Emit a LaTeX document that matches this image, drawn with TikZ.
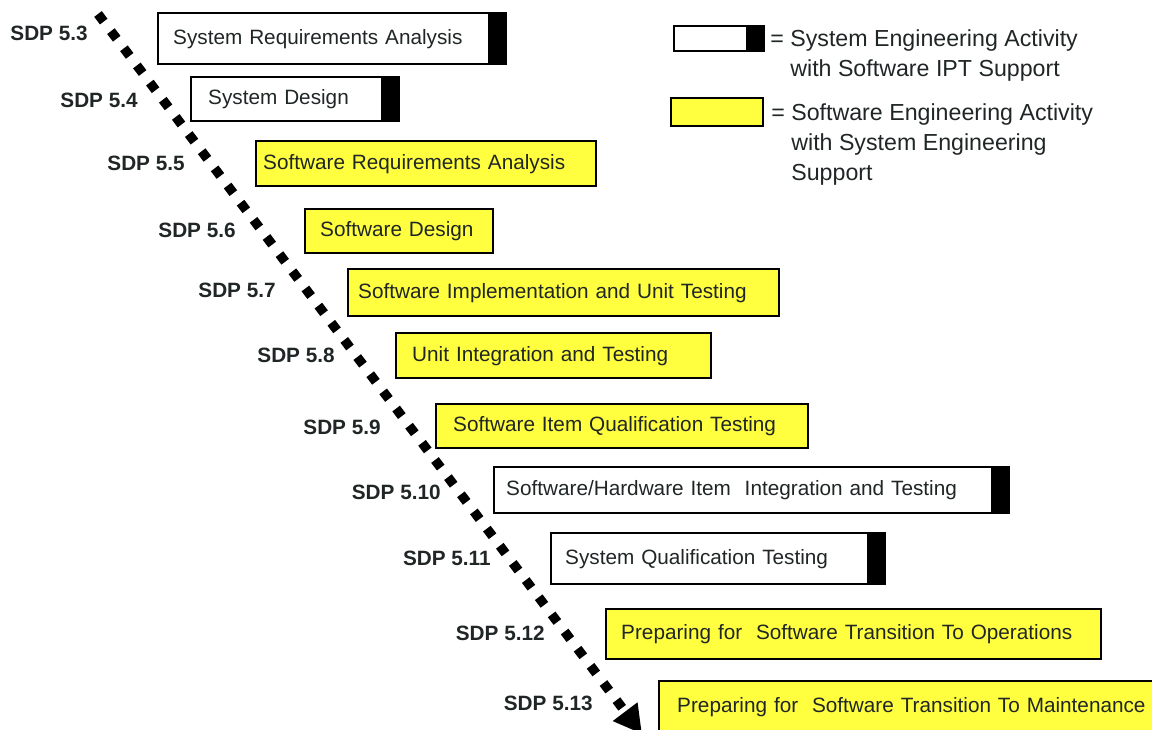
\documentclass[tikz,border=0pt]{standalone}
\usepackage{fontspec}
\setmainfont{Liberation Sans}
\usepackage{tikz}
\usetikzlibrary{arrows.meta}

\definecolor{actyellow}{RGB}{255,255,64}
\definecolor{inkgray}{RGB}{32,38,38}
\newcommand{\actfont}{\fontsize{11.8pt}{14pt}\selectfont}
\newcommand{\keyfont}{\fontsize{13.2pt}{17.1pt}\selectfont}

\tikzset{
	act/.style={draw=black, line width=1.4pt, anchor=north west, inner xsep=0pt,
	            align=left, text=inkgray, font=\actfont},
	swact/.style={act, fill=actyellow},
	seact/.style={act, fill=white,
	              path picture={\fill[black] ([xshift=-3.6mm]path picture bounding box.north east)
	                            rectangle (path picture bounding box.south east);}},
	sdp/.style={anchor=east, inner sep=0pt, text=inkgray, font=\actfont\bfseries},
	keytext/.style={anchor=north west, inner sep=0pt, align=left, text=inkgray, font=\keyfont},
	flowline/.style={line width=1.9mm, dash pattern=on 1.9mm off 2.4mm,
	                 -{Triangle[length=5.6mm, width=5.8mm]}}
}

\begin{document}
\begin{tikzpicture}[x=0.2mm, y=-0.2mm]
	\useasboundingbox (0,0) rectangle (1152,730);

	% activities
	\node[seact, minimum width=69.6mm, text width=63.6mm, minimum height=10.2mm] (sysreq) at (157,12) {System Requirements Analysis};
	\node[seact, minimum width=41.6mm, text width=34.8mm, minimum height=8.8mm] (sysdes) at (190,76) {System Design};
	\node[swact, minimum width=68mm, text width=65.2mm, minimum height=9mm] (swreq) at (255,140) {Software Requirements Analysis};
	\node[swact, minimum width=37.6mm, text width=31.6mm, minimum height=8.8mm] (swdes) at (304,208) {Software Design};
	\node[swact, minimum width=86.2mm, text width=82.2mm, minimum height=9.4mm] (swimpl) at (347,268) {Software Implementation and Unit Testing};
	\node[swact, minimum width=63mm, text width=56.6mm, minimum height=9mm] (unitint) at (395,332) {Unit Integration and Testing};
	\node[swact, minimum width=74.4mm, text width=67.6mm, minimum height=8.8mm] (swqual) at (435,403) {Software Item Qualification Testing};
	\node[seact, minimum width=103mm, text width=98.2mm, minimum height=9.2mm] (swhwint) at (493,466) {Software/Hardware Item\ \ Integration and Testing};
	\node[seact, minimum width=66.8mm, text width=61.2mm, minimum height=10.2mm] (sysqual) at (550,532) {System Qualification Testing};
	\node[swact, minimum width=99mm, text width=93mm, minimum height=10mm] (swtrops) at (605,608) {Preparing for\ \ Software Transition To Operations};
	\node[swact, minimum width=110mm, text width=102.8mm, inner ysep=0pt, text height=6.2mm, text depth=6mm] (swtrmaint) at (658,680) {Preparing for\ \ Software Transition To Maintenance};

	% section numbers
	\begin{scope}[every node/.style={sdp}]
		\node (sdp53) at (88,33) {SDP 5.3};
		\node (sdp54) at (138,100) {SDP 5.4};
		\node (sdp55) at (185,163) {SDP 5.5};
		\node (sdp56) at (236,230) {SDP 5.6};
		\node (sdp57) at (276,290) {SDP 5.7};
		\node (sdp58) at (335,355) {SDP 5.8};
		\node (sdp59) at (381,427) {SDP 5.9};
		\node (sdp510) at (441,492) {SDP 5.10};
		\node (sdp511) at (491,558) {SDP 5.11};
		\node (sdp512) at (545,633) {SDP 5.12};
		\node (sdp513) at (593,703) {SDP 5.13};
	\end{scope}

	% flow
	\coordinate (flowstart) at (98,14);
	\coordinate (flowend) at (642,734);
	\draw[flowline] (flowstart) -- (flowend);

	% legend
	\node[seact, minimum width=18mm, minimum height=5mm] (keyse) at (673,25) {};
	\node[swact, minimum width=18.4mm, minimum height=5.6mm] (keysw) at (670,97) {};
	\node[keytext] (keysetext) at (770,29.5) {= System Engineering Activity\\\phantom{= }with Software IPT Support};
	\node[keytext] (keyswtext) at (771,103.5) {= Software Engineering Activity\\\phantom{= }with System Engineering\\\phantom{= }Support};
\end{tikzpicture}
\end{document}
